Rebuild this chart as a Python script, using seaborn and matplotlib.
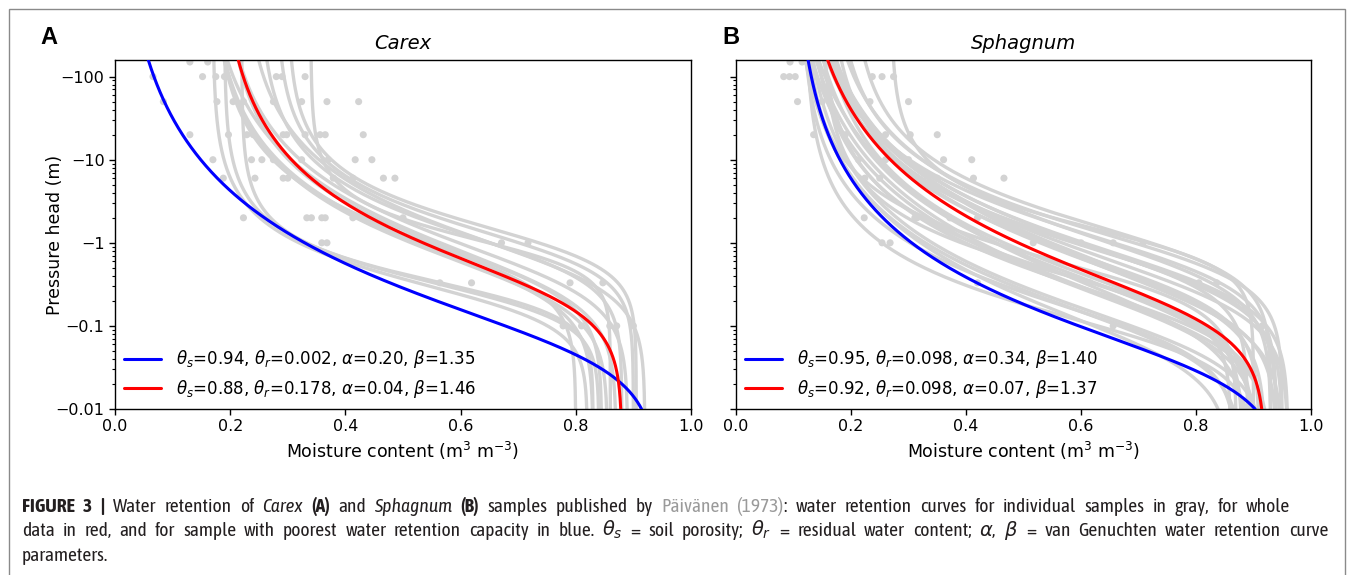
import numpy as np
import pandas as pd
import matplotlib
matplotlib.use("Agg")
import matplotlib.pyplot as plt
import seaborn as sns
from matplotlib.ticker import FixedLocator, FixedFormatter, LogLocator, NullFormatter
from matplotlib.patches import Rectangle
from matplotlib import font_manager

# ---------------- data ----------------
panel_titles = ["Carex", "Sphagnum"]
panel_letters = ["A", "B"]
ytick_values = [100, 10, 1, 0.1, 0.01]
ytick_labels = ["\u2212100", "\u221210", "\u22121", "\u22120.1", "\u22120.01"]
xtick_values = [0.0, 0.2, 0.4, 0.6, 0.8, 1.0]
xtick_labels = ["0.0", "0.2", "0.4", "0.6", "0.8", "1.0"]

# van Genuchten parameters of individual samples (theta_s, theta_r, alpha [1/cm], n)
carex_gray_ts = [0.88, 0.90, 0.92, 0.905, 0.89, 0.86, 0.87, 0.80, 0.83, 0.845, 0.855, 0.83, 0.82, 0.84]
carex_gray_tr = [0.25, 0.28, 0.22, 0.30, 0.18, 0.34, 0.15, 0.17, 0.16, 0.19, 0.16, 0.22, 0.17, 0.19]
carex_gray_alpha = [0.015, 0.012, 0.020, 0.010, 0.025, 0.012, 0.030, 0.020, 0.030, 0.025, 0.035, 0.040, 0.050, 0.045]
carex_gray_n = [1.70, 1.80, 1.55, 1.90, 1.50, 2.30, 1.45, 1.60, 1.50, 1.55, 1.50, 2.20, 1.90, 2.00]

sphag_gray_ts = [0.93, 0.95, 0.94, 0.96, 0.90, 0.91, 0.92, 0.88, 0.87, 0.86, 0.94, 0.95, 0.93, 0.90,
                 0.89, 0.92, 0.91, 0.95, 0.88, 0.87, 0.90, 0.93, 0.86, 0.94, 0.89, 0.90, 0.96, 0.92]
sphag_gray_tr = [0.15, 0.12, 0.10, 0.11, 0.13, 0.09, 0.12, 0.10, 0.11, 0.09, 0.14, 0.17, 0.20, 0.27,
                 0.08, 0.10, 0.13, 0.10, 0.14, 0.12, 0.11, 0.09, 0.15, 0.12, 0.16, 0.12, 0.13, 0.11]
sphag_gray_alpha = [0.020, 0.030, 0.050, 0.040, 0.060, 0.100, 0.080, 0.150, 0.120, 0.200, 0.025, 0.015, 0.012, 0.010,
                    0.090, 0.045, 0.035, 0.060, 0.050, 0.030, 0.070, 0.110, 0.040, 0.018, 0.020, 0.150, 0.028, 0.160]
sphag_gray_n = [1.50, 1.45, 1.40, 1.42, 1.45, 1.40, 1.50, 1.45, 1.55, 1.40, 1.55, 1.60, 1.65, 2.00,
                1.35, 1.38, 1.48, 1.36, 1.60, 1.70, 1.42, 1.38, 1.75, 1.52, 1.60, 1.65, 1.48, 1.45]

# fitted curves: sample with poorest retention (blue) and whole data (red)
carex_blue = [0.94, 0.002, 0.20, 1.35]
carex_red = [0.88, 0.178, 0.04, 1.46]
sphag_blue = [0.95, 0.098, 0.34, 1.40]
sphag_red = [0.92, 0.098, 0.07, 1.37]

# measured points (pressure head magnitude in m, moisture content)
carex_dot_h = ([150] * 2 + [100] * 7 + [50] * 8 + [20] * 10 + [10] * 8 + [6] * 8 + [2] * 8
               + [1] * 4 + [0.33] * 4 + [0.1] * 5)
carex_dot_theta = [0.13, 0.161,
                   0.066, 0.152, 0.175, 0.19, 0.28, 0.29, 0.33,
                   0.084, 0.177, 0.205, 0.223, 0.275, 0.324, 0.368, 0.423,
                   0.13, 0.197, 0.229, 0.24, 0.292, 0.298, 0.33, 0.356, 0.365, 0.431,
                   0.17, 0.237, 0.255, 0.275, 0.324, 0.37, 0.417, 0.446,
                   0.188, 0.243, 0.292, 0.30, 0.379, 0.413, 0.466, 0.486,
                   0.223, 0.333, 0.341, 0.359, 0.365, 0.413, 0.443, 0.50,
                   0.359, 0.368, 0.671, 0.717,
                   0.564, 0.619, 0.79, 0.847,
                   0.778, 0.81, 0.859, 0.871, 0.90]
sphag_dot_h = ([150] * 2 + [100] * 6 + [50] * 4 + [20] * 5 + [10] * 5 + [6] * 6 + [2] * 5
               + [1] * 6 + [0.33] * 4 + [0.1] * 3)
sphag_dot_theta = [0.094, 0.115,
                   0.083, 0.093, 0.103, 0.237, 0.254, 0.274,
                   0.107, 0.15, 0.233, 0.30,
                   0.135, 0.19, 0.26, 0.303, 0.35,
                   0.213, 0.26, 0.30, 0.361, 0.41,
                   0.224, 0.25, 0.31, 0.35, 0.413, 0.466,
                   0.223, 0.311, 0.315, 0.372, 0.42,
                   0.254, 0.268, 0.517, 0.60, 0.656, 0.708,
                   0.42, 0.616, 0.805, 0.836,
                   0.656, 0.80, 0.915]

caption_lines = [
    [("FIGURE 3 |", "bold"), (" Water retention of ", "normal"), ("Carex", "italic"), (" ", "normal"),
     ("(A)", "bold"), (" and ", "normal"), ("Sphagnum", "italic"), (" ", "normal"), ("(B)", "bold"),
     (" samples published by ", "normal"), ("Päivänen (1973)", "link"),
     (": water retention curves for individual samples in gray, for whole", "normal")],
    [("data in red, and for sample with poorest water retention capacity in blue. $\\theta_s$ = soil porosity; "
      "$\\theta_r$ = residual water content; $\\alpha$, $\\beta$ = van Genuchten water retention curve", "normal")],
    [("parameters.", "normal")],
]


# ---------------- helpers ----------------
def van_genuchten(h_m, p):
    ts, tr, a, n = p
    m = 1.0 - 1.0 / n
    return tr + (ts - tr) / (1.0 + (a * h_m * 100.0) ** n) ** m


h_grid = np.logspace(-2, np.log10(158.5), 400)


def legend_text(p):
    return (r"$\theta_s$=%.2f, $\theta_r$=%s, $\alpha$=%.2f, $\beta$=%.2f"
            % (p[0], ("%.3f" % p[1]), p[2], p[3]))


sns.set_style("ticks")
plt.rcParams["font.family"] = ["DejaVu Sans"]
plt.rcParams["mathtext.fontset"] = "dejavusans"
for key in ["text.color", "axes.labelcolor", "xtick.color", "ytick.color", "axes.edgecolor"]:
    plt.rcParams[key] = "black"

W, H = 1355, 575
fig = plt.figure(figsize=(W / 100, H / 100), dpi=100)
fig.patch.set_facecolor("white")

ax_pos = [[115 / W, 1 - 409 / H, 576 / W, 349 / H],
          [736 / W, 1 - 409 / H, 575 / W, 349 / H]]

panels = [
    (carex_gray_ts, carex_gray_tr, carex_gray_alpha, carex_gray_n, carex_blue, carex_red,
     carex_dot_h, carex_dot_theta),
    (sphag_gray_ts, sphag_gray_tr, sphag_gray_alpha, sphag_gray_n, sphag_blue, sphag_red,
     sphag_dot_h, sphag_dot_theta),
]

gray = "#d3d3d3"
for i, (gts, gtr, ga, gn, pb, pr, dh, dt) in enumerate(panels):
    ax = fig.add_axes(ax_pos[i])
    ax.set_yscale("log")
    rows = []
    for k in range(len(gts)):
        th = van_genuchten(h_grid, [gts[k], gtr[k], ga[k], gn[k]])
        rows.append(pd.DataFrame({"theta": th, "h": h_grid, "sample": k}))
    df = pd.concat(rows, ignore_index=True)
    sns.lineplot(data=df, x="theta", y="h", units="sample", estimator=None, sort=False,
                 color=gray, lw=2.4, ax=ax, legend=False)
    sns.scatterplot(x=dt, y=dh, color=gray, s=26, edgecolor="none", ax=ax, zorder=2.5,
                    legend=False)
    sns.lineplot(x=van_genuchten(h_grid, pb), y=h_grid, sort=False, color="blue", lw=2.2,
                 ax=ax, label=legend_text(pb), zorder=4)
    sns.lineplot(x=van_genuchten(h_grid, pr), y=h_grid, sort=False, color="red", lw=2.2,
                 ax=ax, label=legend_text(pr), zorder=4)

    ax.set_xlim(0, 1)
    ax.set_ylim(0.01, 158.5)
    ax.xaxis.set_major_locator(FixedLocator(xtick_values))
    ax.xaxis.set_major_formatter(FixedFormatter(xtick_labels))
    ax.yaxis.set_major_locator(FixedLocator(ytick_values))
    ax.yaxis.set_minor_locator(LogLocator(base=10, subs=np.arange(2, 10)))
    ax.yaxis.set_minor_formatter(NullFormatter())
    if i == 0:
        ax.yaxis.set_major_formatter(FixedFormatter(ytick_labels))
        ax.set_ylabel("Pressure head (m)", fontsize=12.5)
        ax.yaxis.set_label_coords(-0.088, 0.5)
    else:
        ax.yaxis.set_major_formatter(NullFormatter())
        ax.set_ylabel("")
    ax.tick_params(axis="both", which="major", labelsize=11.5, length=4, width=1, color="black",
                   labelcolor="black")
    ax.tick_params(axis="y", which="minor", length=2.2, width=0.8, color="black")
    ax.set_xlabel("Moisture content (m$^3$ m$^{-3}$)", fontsize=12.5, color="black")
    ax.set_title(panel_titles[i], fontsize=14, style="italic", pad=8, color="black")
    for s in ax.spines.values():
        s.set_visible(True)
        s.set_color("black")
        s.set_linewidth(1.0)
    leg = ax.legend(loc="lower left", frameon=False, fontsize=12, handlelength=2.2,
                    handletextpad=0.9, borderaxespad=0.15, labelspacing=0.45)
    for t in leg.get_texts():
        t.set_color("black")

# panel letters
fig.text(40 / W, 1 - 38 / H, "A", fontsize=17, weight="bold", va="center", ha="left",
         family=["Liberation Sans", "DejaVu Sans"], color="black")
fig.text(722 / W, 1 - 38 / H, "B", fontsize=17, weight="bold", va="center", ha="left",
         family=["Liberation Sans", "DejaVu Sans"], color="black")

# outer frame
fig.patches.append(Rectangle((9 / W, -0.05), (1345 - 9) / W, 1.05 - 9 / H, transform=fig.transFigure,
                             fill=False, edgecolor="#8a8a8a", lw=1.0))

# ---------------- caption ----------------
entries = font_manager.fontManager.ttflist


def weight_value(w):
    if isinstance(w, str):
        return font_manager.weight_dict.get(w, 400)
    return w


names = sorted({f.name for f in entries})
cands = [n for n in names if ("Narrow" in n or "Condensed" in n) and "Mono" not in n and "Serif" not in n]
cap_family = "Liberation Sans"
bold_family = "Liberation Sans"
with_bold = [n for n in cands if any(f.name == n and weight_value(f.weight) >= 600 for f in entries)]
if with_bold:
    cap_family = with_bold[0]
    bold_family = with_bold[0]
elif cands:
    cap_family = cands[0]
    bold_family = "Liberation Sans"
renderer = fig.canvas.get_renderer()


def style_props(style, size):
    d = dict(fontsize=size, family=[cap_family, "DejaVu Sans"], color="#231f20", va="baseline", ha="left")
    if style == "bold":
        d["weight"] = "bold"
        d["family"] = [bold_family, "DejaVu Sans"]
        if bold_family != cap_family:
            d["fontsize"] = size * 0.86
    elif style == "italic":
        d["style"] = "italic"
    elif style == "link":
        d["color"] = "#9a9a9a"
    return d


def build_items(runs):
    items = []
    for text, style in runs:
        parts = text.split(" ")
        for j, p in enumerate(parts):
            if j > 0:
                items.append(None)
            if p:
                items.append((p, style))
    return items


def measure(text, props):
    t = fig.text(0, 0, text, **props)
    w = t.get_window_extent(renderer).width
    t.remove()
    return w


def line_width(runs, size):
    items = build_items(runs)
    sp = measure("a a", style_props("normal", size)) - measure("aa", style_props("normal", size))
    total = 0
    for it in items:
        total += sp if it is None else measure(it[0], style_props(it[1], size))
    return total


cap_size = 11.5
w1 = line_width(caption_lines[0], cap_size)
cap_size = min(14.0, cap_size * (1290 - 22) / w1)


def draw_line(runs, x0, base, size, justify_to=None):
    items = build_items(runs)
    sp = measure("a a", style_props("normal", size)) - measure("aa", style_props("normal", size))
    widths = [None if it is None else measure(it[0], style_props(it[1], size)) for it in items]
    nsp = sum(1 for it in items if it is None)
    total = sum(sp if w is None else w for w in widths)
    extra = 0.0
    if justify_to is not None and nsp > 0:
        extra = (justify_to - x0 - total) / nsp
    x = x0
    for it, w in zip(items, widths):
        if it is None:
            x += sp + extra
        else:
            fig.text(x / W, 1 - base / H, it[0], **style_props(it[1], size))
            x += w


draw_line(caption_lines[0], 22, 512, cap_size, justify_to=1290)
draw_line(caption_lines[1], 22, 536, cap_size, justify_to=1328)
draw_line(caption_lines[2], 22, 561, cap_size)

fig.savefig("out.png", dpi=100, facecolor="white")
